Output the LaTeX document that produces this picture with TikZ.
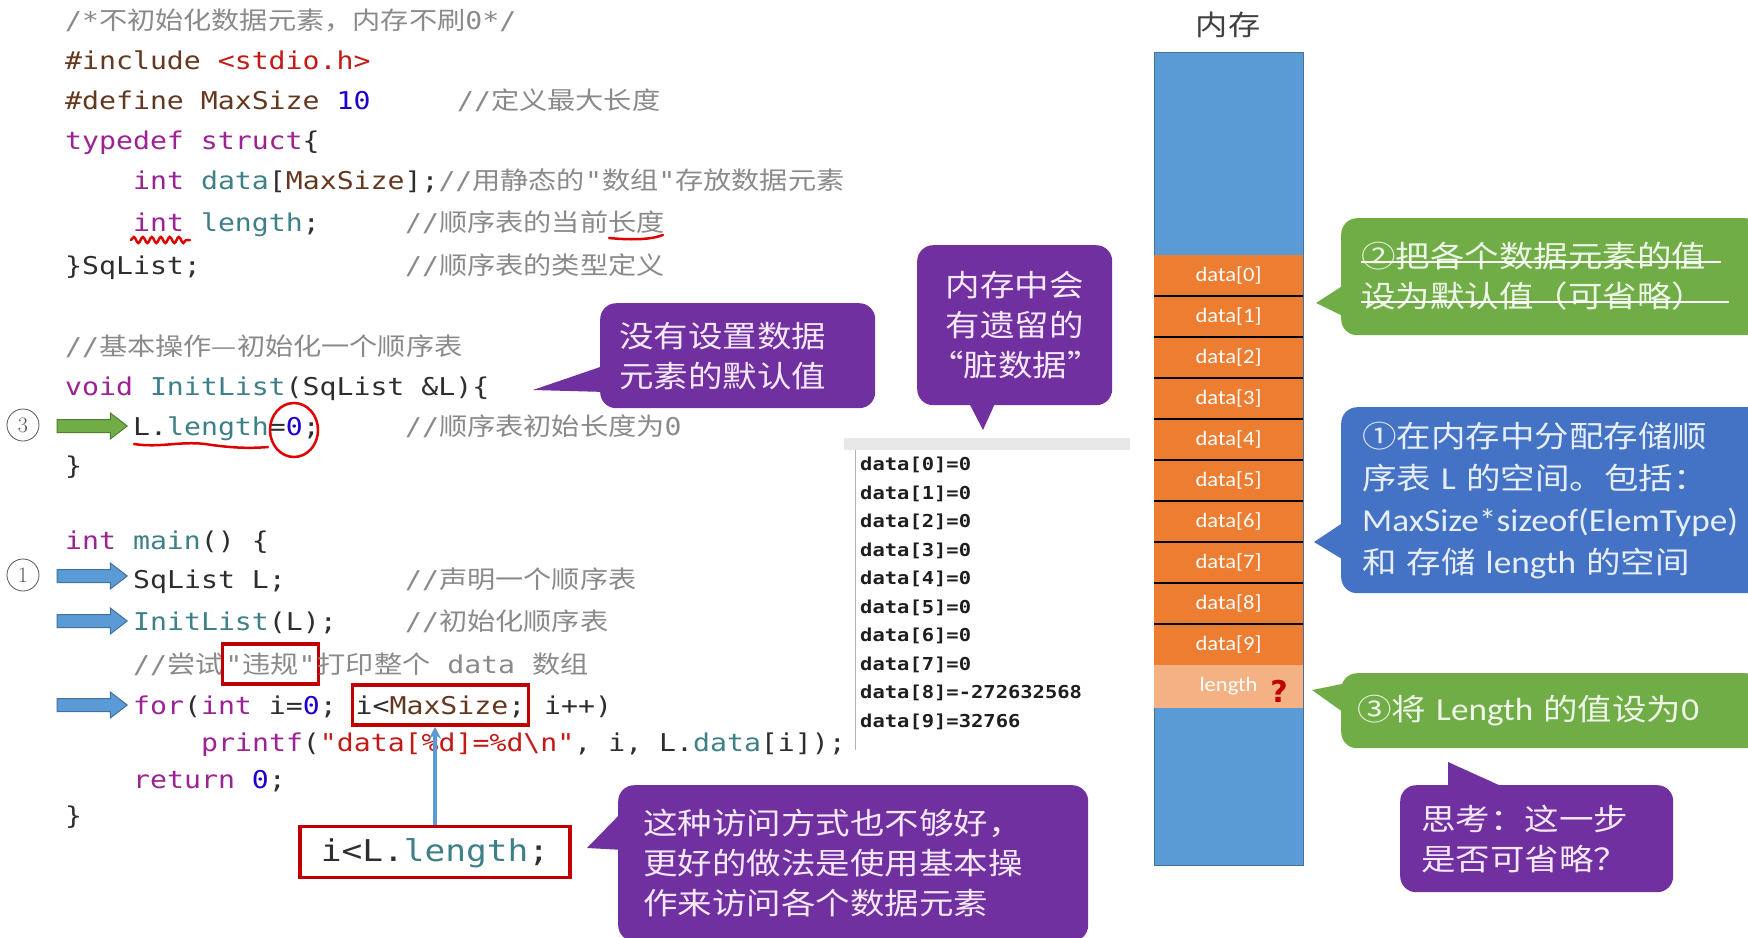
\documentclass[tikz,border=0pt]{standalone}
\usepackage{fontspec}
\setmonofont{DejaVu Sans Mono}[FakeStretch=1.15]
\newfontfamily\cjk{Noto Sans CJK SC}[FakeStretch=1.15]
\newfontfamily\lat{Carlito}[FakeStretch=1.1]
\newfontfamily\sym{DejaVu Sans}
\usepackage{xcolor}
\definecolor{plainColor}{HTML}{2E2E2E}
\definecolor{kwColor}{HTML}{9B2393}
\definecolor{idColor}{HTML}{3E8087}
\definecolor{numColor}{HTML}{1C00CF}
\definecolor{strColor}{HTML}{C41A16}
\definecolor{ppColor}{HTML}{643820}
\definecolor{cmtColor}{HTML}{8A8A8A}
\definecolor{outColor}{HTML}{1E1E1E}
\definecolor{boxRed}{HTML}{C00000}
\definecolor{annRed}{HTML}{E00000}
\definecolor{colBlue}{HTML}{5B9BD5}
\definecolor{colBlueD}{HTML}{41719C}
\definecolor{cellOrange}{HTML}{ED7D31}
\definecolor{cellPeach}{HTML}{F4B183}
\definecolor{arrGreen}{HTML}{70AD47}
\definecolor{arrGreenD}{HTML}{507E32}
\definecolor{bubPurple}{HTML}{7030A0}
\definecolor{bubPurpleText}{HTML}{F6E8FB}
\definecolor{bubGreen}{HTML}{70AD47}
\definecolor{bubGreenText}{HTML}{EEF6E8}
\definecolor{bubBlue}{HTML}{4472C4}
\definecolor{bubBlueText}{HTML}{E6EEF9}
\definecolor{titleGray}{HTML}{404040}
\definecolor{numGray}{HTML}{555555}
\usepackage{tikz}
\usetikzlibrary{shapes.arrows, arrows.meta, positioning, decorations.pathmorphing}

\newcommand{\codefont}{\ttfamily\fontsize{24.5}{30}\selectfont}
\newcommand{\bubfont}{\cjk\fontsize{30}{40}\selectfont}
\newcommand{\zh}[1]{{\cjk #1}}
\newcommand{\en}[1]{{\lat\fontsize{32}{40}\selectfont #1}}
\newcommand{\kwd}[1]{\textcolor{kwColor}{#1}}
\newcommand{\idn}[1]{\textcolor{idColor}{#1}}
\newcommand{\numc}[1]{\textcolor{numColor}{#1}}
\newcommand{\strc}[1]{\textcolor{strColor}{#1}}
\newcommand{\ppd}[1]{\textcolor{ppColor}{#1}}

\tikzset{
  codeline/.style={anchor=west, inner sep=0pt, text height=22pt, text depth=4pt, font=\codefont, text=plainColor},
  cmtline/.style={codeline, text=cmtColor},
  redbox/.style={codeline, draw=boxRed, line width=3.5pt, inner xsep=3pt, inner ysep=7pt},
  outline/.style={anchor=west, inner sep=0pt, font=\ttfamily\bfseries\fontsize{17.8}{20}\selectfont, text=outColor},
  memcell/.style={rectangle, fill=cellOrange, minimum width=149pt, minimum height=41pt, inner sep=0pt, text=white, font=\lat\fontsize{20.5}{20}\selectfont},
  sepline/.style={black, line width=2pt},
  bubble/.style={anchor=north west, rounded corners=16pt, inner ysep=0pt, align=left, font=\bubfont},
  purplebub/.style={bubble, fill=bubPurple, text=bubPurpleText},
  greenbub/.style={bubble, fill=bubGreen, text=bubGreenText},
  bluebub/.style={bubble, fill=bubBlue, text=bubBlueText},
  blockarr/.style={single arrow, minimum height=70pt, inner sep=0pt, inner ysep=6pt, single arrow head extend=6.5pt, single arrow tip angle=75, line width=1pt},
  stepnum/.style={circle, draw=numGray, line width=0.8pt, minimum size=32pt, inner sep=0pt, font=\rmfamily\fontsize{22}{22}\selectfont, text=numGray},
  annot/.style={draw=annRed, line width=2.5pt, line cap=round},
  ptr/.style={-{Stealth[length=12pt,width=12pt]}, draw=colBlue, line width=3.5pt}
}

\begin{document}
\begin{tikzpicture}[x=1pt, y=-1pt]
        \useasboundingbox (0,0) rectangle (1748,937);
        \clip (0,0) rectangle (1748,937);
        \fill[white] (0,0) rectangle (1748,937);

        % Code listing (struct)
        \node[cmtline] (c1) at (65,20) {/*\zh{不初始化数据元素，内存不刷}0*/};
        \node[codeline] (c2) at (65,60) {\ppd{\#include} \strc{<stdio.h>}};
        \node[codeline] (c3) at (65,100) {\ppd{\#define MaxSize} \numc{10}};
        \node[cmtline] (c3c) at (457,100) {//\zh{定义最大长度}};
        \node[codeline] (c4) at (65,140) {\kwd{typedef} \kwd{struct}\{};
        \node[codeline] (c5) at (133,180) {\kwd{int} \idn{data}[\ppd{MaxSize}];\textcolor{cmtColor}{//\zh{用静态的}"\zh{数组}"\zh{存放数据元素}}};
        \node[codeline] (c6) at (133,222) {\kwd{int} \idn{length};};
        \node[cmtline] (c6c) at (405,222) {//\zh{顺序表的当前长度}};
        \node[codeline] (c7) at (65,265) {\}SqList;};
        \node[cmtline] (c7c) at (405,265) {//\zh{顺序表的类型定义}};

        % Code listing (InitList)
        \node[cmtline] (c9) at (65,346) {//\zh{基本操作—初始化一个顺序表}};
        \node[codeline] (c10) at (65,386) {\kwd{void} \idn{InitList}(SqList \&L)\{};
        \node[codeline] (c11) at (133,426) {L.\idn{length}=\numc{0};};
        \node[cmtline] (c11c) at (405,426) {//\zh{顺序表初始长度为}0};
        \node[codeline] (c12) at (65,465) {\}};

        % Code listing (main)
        \node[codeline] (c14) at (65,540) {\kwd{int} \idn{main}() \{};
        \node[codeline] (c15) at (133,579) {SqList L;};
        \node[cmtline] (c15c) at (405,579) {//\zh{声明一个顺序表}};
        \node[codeline] (c16) at (133,621) {\idn{InitList}(L);};
        \node[cmtline] (c16c) at (405,621) {//\zh{初始化顺序表}};
        \node[cmtline] (c17) at (133,664) {//\zh{尝试}};
        \node[redbox, text=cmtColor, right=-3pt of c17] (vg) {"\zh{违规}"};
        \node[cmtline, right=-3pt of vg] (c17b) {\zh{打印整个} data \zh{数组}};
        \node[codeline] (c18) at (133,705) {\kwd{for}(\kwd{int} i=\numc{0};};
        \node[redbox, right=13.96pt of c18] (maxsz) {i<\ppd{MaxSize};};
        \node[codeline, right=13.96pt of maxsz] (c18b) {i++)};
        \node[codeline] (c19) at (201,742) {\kwd{printf}(\strc{"data[\%d]=\%d\textbackslash n"}, i, L.\idn{data}[i]);};
        \node[codeline] (c20) at (133,779) {\kwd{return} \numc{0};};
        \node[codeline] (c21) at (65,815) {\}};

        % Better bound
        \node[redbox, anchor=center, font=\ttfamily\fontsize{30}{30}\selectfont, text height=26pt, text depth=7pt, inner xsep=21pt, inner ysep=9pt] (ilen) at (435,852) {i<L.\idn{length};};
        \draw[ptr] (ilen.north) -- (ilen.north |- maxsz.south);

        % Step markers
        \node[stepnum] (n3) at (23,425) {3};
        \node[blockarr, fill=arrGreen, draw=arrGreenD] (a3) at (88,426) {};
        \node[stepnum] (n1) at (23,575) {1};
        \node[blockarr, fill=colBlue, draw=colBlueD] (a1) at (88,576) {};
        \node[blockarr, fill=colBlue, draw=colBlueD] (a2) at (88,621) {};
        \node[blockarr, fill=colBlue, draw=colBlueD] (a4) at (88,705) {};

        % Hand drawn marks
        \draw[annot, decorate, decoration={snake, amplitude=3pt, segment length=9pt}] (131,240) -- (190,240);
        \draw[annot] (609,238) .. controls (630,240) and (650,240) .. (663,235);
        \draw[annot] (134,444) .. controls (160,448) and (180,441) .. (205,444) .. controls (225,447) and (245,449) .. (268,447);
        \draw[annot] (294,430) ellipse [x radius=24pt, y radius=27pt];

        % Console output
        \fill[black!9] (844,438) rectangle (1130,450);
        \draw[black!30, line width=1pt] (855,450) -- (855,750);
        \node[outline] (o0) at (860,465) {data[0]=0};
        \node[outline] (o1) at (860,493.5) {data[1]=0};
        \node[outline] (o2) at (860,522) {data[2]=0};
        \node[outline] (o3) at (860,550.5) {data[3]=0};
        \node[outline] (o4) at (860,579) {data[4]=0};
        \node[outline] (o5) at (860,607.5) {data[5]=0};
        \node[outline] (o6) at (860,636) {data[6]=0};
        \node[outline] (o7) at (860,664.5) {data[7]=0};
        \node[outline] (o8) at (860,693) {data[8]=-272632568};
        \node[outline] (o9) at (860,721.5) {data[9]=32766};

        % Memory column
        \node[font=\cjk\fontsize{28}{28}\selectfont, text=titleGray] (memt) at (1228,25) {内存};
        \node[rectangle, fill=colBlue, draw=colBlueD, line width=1pt, minimum width=149pt, minimum height=813pt] (mem) at (1228.5,458.5) {};
        \node[memcell] (m0) at (1228.5,275.5) {data[0]};
        \node[memcell] (m1) at (1228.5,316.5) {data[1]};
        \node[memcell] (m2) at (1228.5,357.5) {data[2]};
        \node[memcell] (m3) at (1228.5,398.5) {data[3]};
        \node[memcell] (m4) at (1228.5,439.5) {data[4]};
        \node[memcell] (m5) at (1228.5,480.5) {data[5]};
        \node[memcell] (m6) at (1228.5,521.5) {data[6]};
        \node[memcell] (m7) at (1228.5,562.5) {data[7]};
        \node[memcell] (m8) at (1228.5,603.5) {data[8]};
        \node[memcell] (m9) at (1228.5,644.5) {data[9]};
        \node[memcell, fill=cellPeach, minimum height=43pt] (mlen) at (1228.5,686.5) {length};
        \node[font=\sym\bfseries\fontsize{30}{30}\selectfont, text=boxRed, inner sep=0pt] (qm) at (1279,691) {?};
        \draw[sepline] (m0.south west) -- (m0.south east) (m1.south west) -- (m1.south east)
            (m2.south west) -- (m2.south east) (m3.south west) -- (m3.south east)
            (m4.south west) -- (m4.south east) (m5.south west) -- (m5.south east)
            (m6.south west) -- (m6.south east) (m7.south west) -- (m7.south east)
            (m8.south west) -- (m8.south east);

        % Purple bubbles
        \coordinate (t1) at (533,390);
        \fill[bubPurple] (t1) -- (606,365) -- (606,392) -- cycle;
        \node[purplebub, minimum width=275pt, minimum height=105pt, inner xsep=19pt, text width=237pt] (pb1) at (600,303) {没有设置数据\\元素的默认值};
        \coordinate (t2) at (983,430);
        \fill[bubPurple] (t2) -- (967,399) -- (997,399) -- cycle;
        \node[purplebub, align=center, minimum width=195pt, minimum height=160pt, inner xsep=12pt, text width=171pt] (pb2) at (917,245) {内存中会\\有遗留的\\“脏数据”};
        \coordinate (t3) at (587,848);
        \fill[bubPurple] (t3) -- (624,810) -- (624,850) -- cycle;
        \node[purplebub, minimum width=470pt, minimum height=156pt, inner xsep=25pt, text width=420pt] (pb3) at (618,785) {这种访问方式也不够好，\\更好的做法是使用基本操\\作来访问各个数据元素};
        \coordinate (t4) at (1448,762);
        \fill[bubPurple] (t4) -- (1448,791) -- (1512,791) -- cycle;
        \node[purplebub, minimum width=273pt, minimum height=107pt, inner xsep=21pt, text width=231pt] (pth) at (1400,785) {思考：这一步\\是否可省略？};

        % Step bubbles beside memory
        \coordinate (t5) at (1316,303);
        \fill[bubGreen] (t5) -- (1347,283) -- (1347,318) -- cycle;
        \node[greenbub, minimum width=420pt, minimum height=117pt, inner xsep=20pt, text width=380pt] (pg2) at (1341,218) {②把各个数据元素的值\\设为默认值（可省略）};
        \draw[white, line width=2pt] (1361,262) -- (1721,262) (1361,302) -- (1729,302);
        \coordinate (t6) at (1314,542);
        \fill[bubBlue] (t6) -- (1347,520) -- (1347,562) -- cycle;
        \node[bluebub, font=\cjk\fontsize{30}{42}\selectfont, minimum width=420pt, minimum height=186pt, inner xsep=21pt, text width=400pt] (pbl) at (1341,407) {①在内存中分配存储顺\\序表\en{ L }的空间。包括：\\\en{MaxSize*sizeof(ElemType)}\\和 存储 \en{length} 的空间};
        \coordinate (t7) at (1312,690);
        \fill[bubGreen] (t7) -- (1347,683) -- (1347,715) -- cycle;
        \node[greenbub, minimum width=420pt, minimum height=75pt, inner xsep=16pt, text width=388pt] (pg3) at (1341,673) {③将 \en{Length} 的值设为\en{0}};
    \end{tikzpicture}
\end{document}
